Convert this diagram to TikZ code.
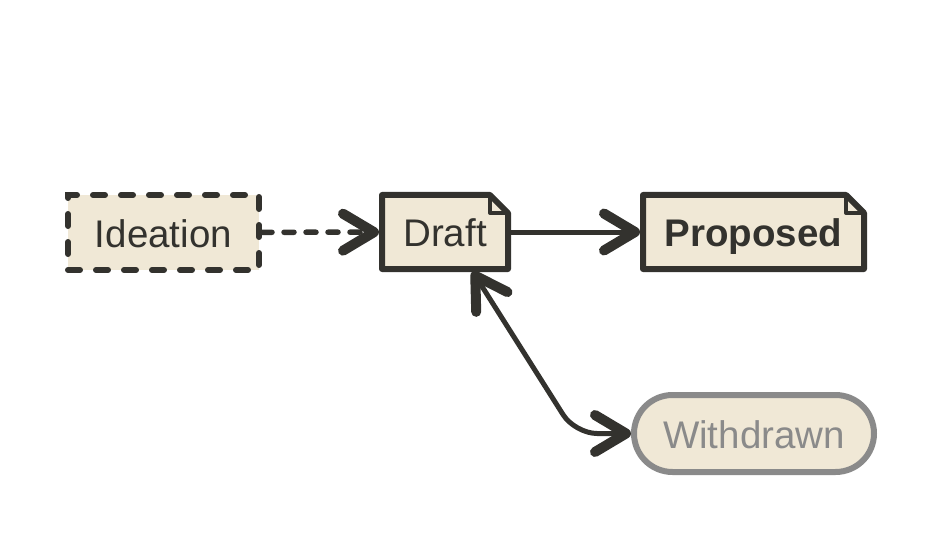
\documentclass[tikz,border=0pt]{standalone}
\usepackage{fontspec}
\setmainfont{Liberation Sans}
\usetikzlibrary{arrows.meta,backgrounds}
\definecolor{paper}{RGB}{240,232,214}
\definecolor{ink}{RGB}{51,50,46}
\definecolor{faded}{RGB}{138,138,138}
\tikzset{
  state/.style={text=ink, inner sep=0pt, minimum height=74pt, text height=34pt, text depth=4pt,
                font=\fontsize{38.5}{46}\selectfont},
  note/.style={state, outer sep=0pt},
  barb/.tip={Straight Barb[length=31pt, width=37pt, line width=10pt, round]},
  link/.style={draw=ink, line width=5pt, -barb},
}
% dog-eared box behind a named node
\newcommand{\dogear}[1]{%
  \begin{scope}[on background layer]
  \filldraw[fill=paper, draw=ink, line width=6pt, line join=round]
    (#1.north west) -- ([xshift=-18pt]#1.north east) -- ([yshift=-18pt]#1.north east)
    -- (#1.south east) -- (#1.south west) -- cycle;
  \draw[ink, line width=4pt, line join=round]
    ([xshift=-18pt]#1.north east) |- ([yshift=-18pt]#1.north east);
  \end{scope}}
\begin{document}
\begin{tikzpicture}[x=1pt, y=1pt]
\useasboundingbox (0,0) rectangle (943,542);
\node[state, fill=paper, draw=ink, line width=6pt, minimum width=191pt, minimum height=75pt,
      dash pattern=on 12pt off 16pt, line cap=round] (ideation) at (163.5,309.5) {Ideation};
\node[note, minimum width=126pt] (draft) at (445,310) {Draft};
\node[note, minimum width=221pt] (proposed) at (753.5,310) {\bfseries Proposed};
\node[state, fill=paper, draw=faded, text=faded, line width=6pt, minimum width=240pt, minimum height=77pt,
      rounded corners=38.5pt] (withdrawn) at (754,108.5) {Withdrawn};
\dogear{draft}
\dogear{proposed}
\coordinate (bend) at (575,108.5);
\path [link, line width=5.5pt, dash pattern=on 10pt off 12pt, line cap=round, shorten >=3pt] (ideation) edge (draft);
\path [link, shorten <=3pt, shorten >=3pt] (draft) edge (proposed);
\draw [link, barb-barb, rounded corners=22pt, shorten <=3pt]
  ([xshift=26pt]draft.south) -- (bend) -- (withdrawn.west);
\end{tikzpicture}
\end{document}
